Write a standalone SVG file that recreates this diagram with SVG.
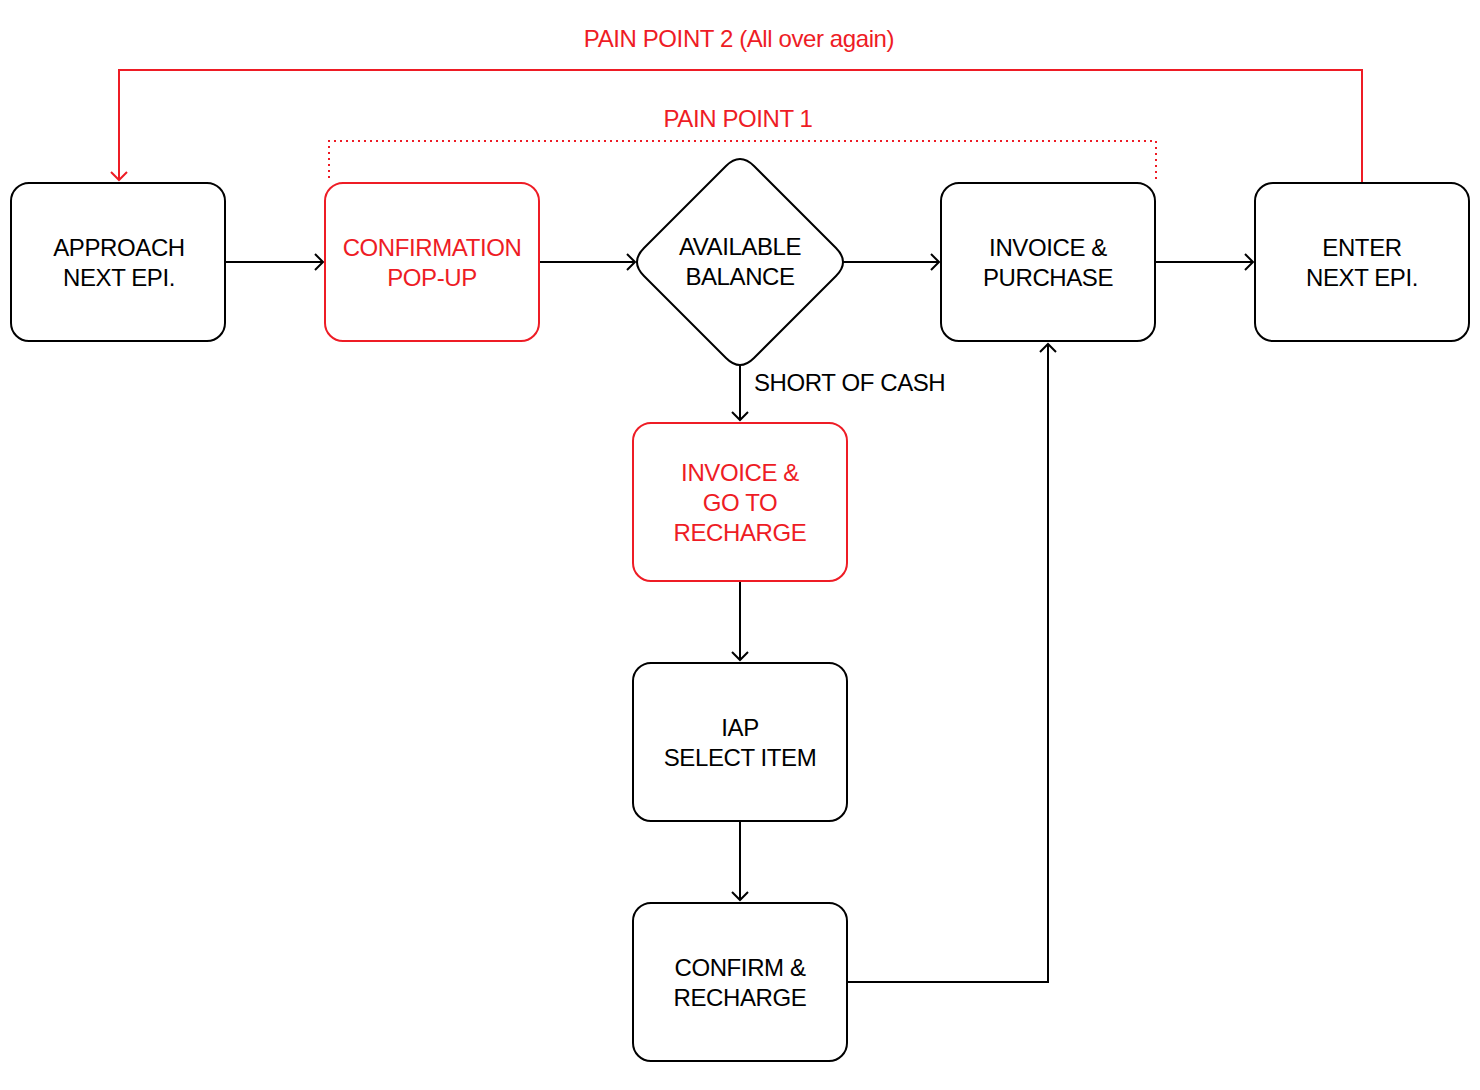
<svg xmlns="http://www.w3.org/2000/svg" width="1480" height="1090" viewBox="0 0 1480 1090">
<style>
text{font-family:"Liberation Sans",Arial,Helvetica,sans-serif;font-size:24px;letter-spacing:-0.4px;text-anchor:middle}
.box{fill:#fff;stroke:#000;stroke-width:2}
.red{stroke:#ee1c25}
.rt{fill:#ee1c25}
.bt{fill:#000}
.c{fill:none;stroke:#000;stroke-width:2}
.cr{fill:none;stroke:#ee1c25;stroke-width:2}
.dot{fill:none;stroke:#ee1c25;stroke-width:2;stroke-dasharray:2 4}
</style>
<defs>
<marker id="a" markerUnits="userSpaceOnUse" markerWidth="20" markerHeight="20" refX="10" refY="10" orient="auto" viewBox="0 0 20 20">
<path d="M2,2 L10,10 L2,18" fill="none" stroke="#000" stroke-width="2"/>
</marker>
<marker id="ar" markerUnits="userSpaceOnUse" markerWidth="20" markerHeight="20" refX="10" refY="10" orient="auto" viewBox="0 0 20 20">
<path d="M2,2 L10,10 L2,18" fill="none" stroke="#ee1c25" stroke-width="2"/>
</marker>
</defs>
<rect width="1480" height="1090" fill="#fff"/>
<g id="connectors">
<path class="c" d="M225,262 H323" marker-end="url(#a)"/>
<path class="c" d="M539,262 H635" marker-end="url(#a)"/>
<path class="c" d="M844,262 H939" marker-end="url(#a)"/>
<path class="c" d="M1155,262 H1253" marker-end="url(#a)"/>
<path class="c" d="M740,365 V420" marker-end="url(#a)"/>
<path class="c" d="M740,581 V660" marker-end="url(#a)"/>
<path class="c" d="M740,821 V900" marker-end="url(#a)"/>
<path class="c" d="M847,982 H1048 V344" marker-end="url(#a)"/>
<path class="cr" d="M1362,183 V70 H119 V180" marker-end="url(#ar)"/>
<path class="dot" d="M329,178 V141 H1156 V183"/>
<text x="739" y="47" class="rt">PAIN POINT 2 (All over again)</text>
<text x="738" y="127" class="rt">PAIN POINT 1</text>
<text x="754" y="391" class="bt" style="text-anchor:start">SHORT OF CASH</text>
</g>
<g id="approach">
<rect class="box" x="11" y="183" width="214" height="158" rx="18"/>
<text x="119" y="256" class="bt">APPROACH</text>
<text x="119" y="286" class="bt">NEXT EPI.</text>
</g>
<g id="confirmation">
<rect class="box red" x="325" y="183" width="214" height="158" rx="18"/>
<text x="432" y="256" class="rt">CONFIRMATION</text>
<text x="432" y="286" class="rt">POP-UP</text>
</g>
<g id="balance">
<path class="box" d="M726,166 Q740,152 754,166 L836,248 Q850,262 836,276 L754,358 Q740,372 726,358 L644,276 Q630,262 644,248 Z"/>
<text x="740" y="255" class="bt">AVAILABLE</text>
<text x="740" y="285" class="bt">BALANCE</text>
</g>
<g id="invoice-purchase">
<rect class="box" x="941" y="183" width="214" height="158" rx="18"/>
<text x="1048" y="256" class="bt">INVOICE &amp;</text>
<text x="1048" y="286" class="bt">PURCHASE</text>
</g>
<g id="enter">
<rect class="box" x="1255" y="183" width="214" height="158" rx="18"/>
<text x="1362" y="256" class="bt">ENTER</text>
<text x="1362" y="286" class="bt">NEXT EPI.</text>
</g>
<g id="invoice-recharge">
<rect class="box red" x="633" y="423" width="214" height="158" rx="18"/>
<text x="740" y="481" class="rt">INVOICE &amp;</text>
<text x="740" y="511" class="rt">GO TO</text>
<text x="740" y="541" class="rt">RECHARGE</text>
</g>
<g id="iap">
<rect class="box" x="633" y="663" width="214" height="158" rx="18"/>
<text x="740" y="736" class="bt">IAP</text>
<text x="740" y="766" class="bt">SELECT ITEM</text>
</g>
<g id="confirm-recharge">
<rect class="box" x="633" y="903" width="214" height="158" rx="18"/>
<text x="740" y="976" class="bt">CONFIRM &amp;</text>
<text x="740" y="1006" class="bt">RECHARGE</text>
</g>
</svg>
